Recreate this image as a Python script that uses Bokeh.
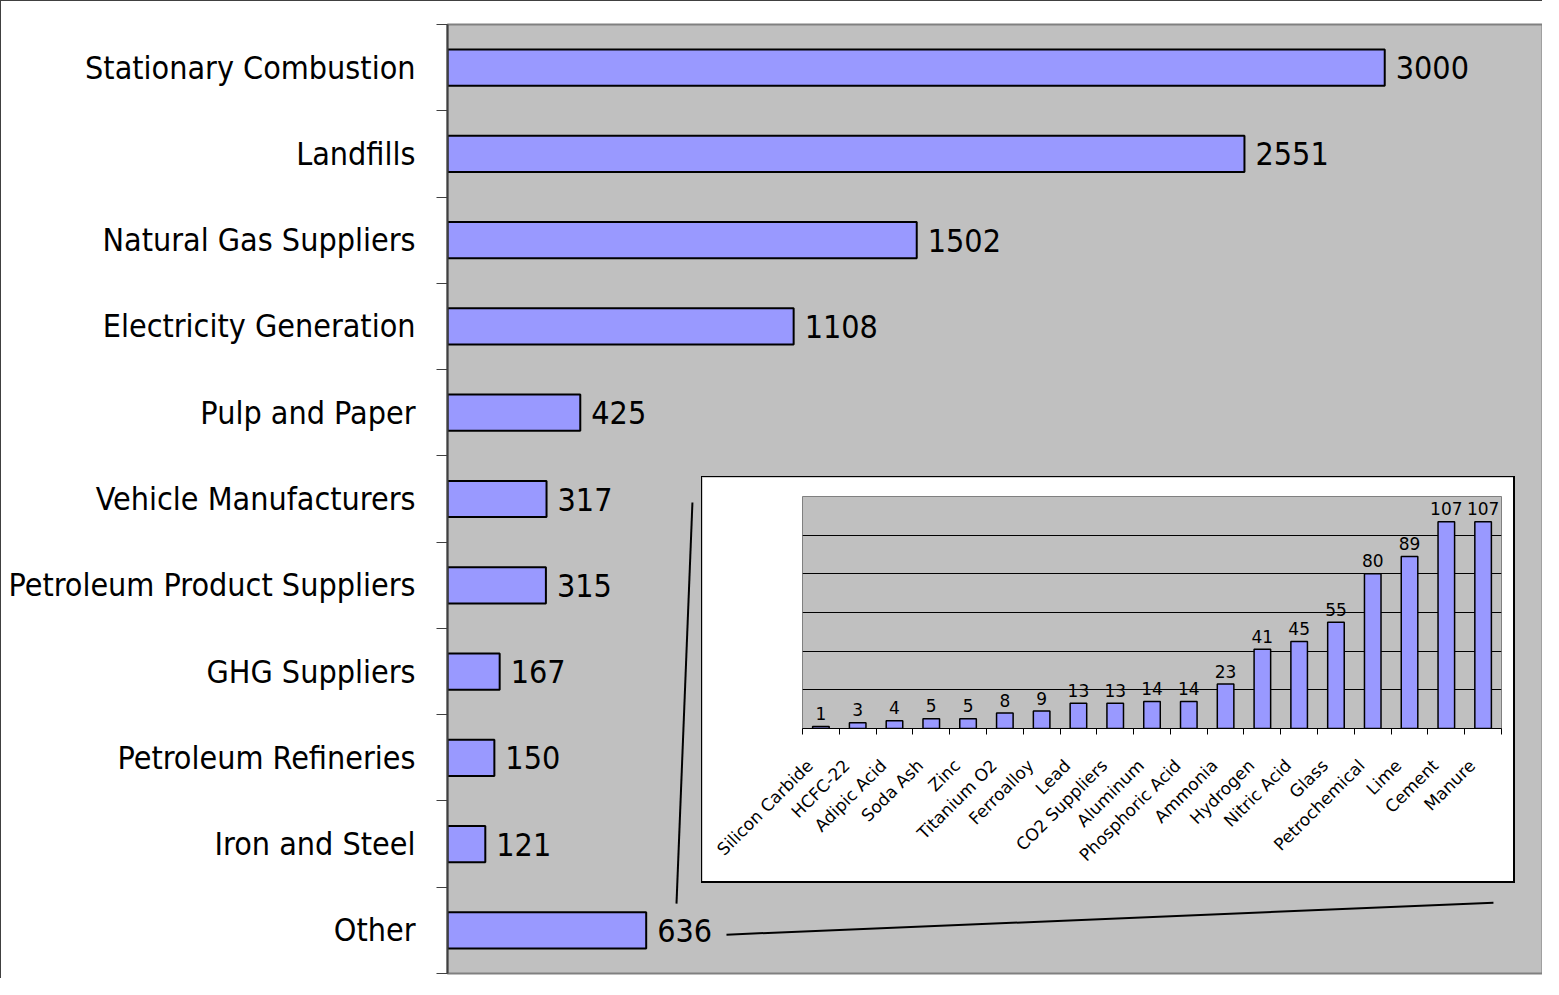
import math
from bokeh.plotting import figure
from bokeh.models import Range1d, FixedTicker, ColumnDataSource, CustomJSTickFormatter
from bokeh.layouts import column
from bokeh.embed import file_html
from bokeh.resources import INLINE
from bokeh.core.properties import value

# ---------------- data ----------------
categories = ["Stationary Combustion", "Landfills", "Natural Gas Suppliers",
              "Electricity Generation", "Pulp and Paper", "Vehicle Manufacturers",
              "Petroleum Product Suppliers", "GHG Suppliers", "Petroleum Refineries",
              "Iron and Steel", "Other"]
values = [3000, 2551, 1502, 1108, 425, 317, 315, 167, 150, 121, 636]

inset_categories = ["Silicon Carbide", "HCFC-22", "Adipic Acid", "Soda Ash", "Zinc",
                    "Titanium O2", "Ferroalloy", "Lead", "CO2 Suppliers", "Aluminum",
                    "Phosphoric Acid", "Ammonia", "Hydrogen", "Nitric Acid", "Glass",
                    "Petrochemical", "Lime", "Cement", "Manure"]
inset_values = [1, 3, 4, 5, 5, 8, 9, 13, 13, 14, 14, 23, 41, 45, 55, 80, 89, 107, 107]
inset_gridlines = [20, 40, 60, 80, 100]

NARROW = "'DejaVu Sans Condensed', 'Liberation Sans Narrow', sans-serif"
SANS = "'DejaVu Sans', Verdana, sans-serif"
BAR = "#9999FF"
PLOT_BG = "#C0C0C0"

# ---------------- main chart ----------------
n = len(categories)
ypos = [i + 0.5 for i in range(n)]
src = ColumnDataSource(dict(cat=categories, val=values, y=ypos,
                            lbl=[str(v) for v in values]))

W, H = 1542, 978
p = figure(width=W, height=H, output_backend="svg", toolbar_location=None,
           x_range=Range1d(0, 3505), y_range=Range1d(n, 0),
           min_border_left=446, min_border_right=1, min_border_top=23,
           min_border_bottom=6, x_axis_location=None,
           background_fill_color=PLOT_BG, border_fill_color="white",
           styles={"border-left": "1px solid #404040", "border-top": "1px solid #404040"})
p.xgrid.visible = False
p.ygrid.visible = False
p.outline_line_color = "#808080"
p.outline_line_width = 2

p.hbar(y="y", right="val", left=0, height=0.42, fill_color=BAR,
       line_color="black", line_width=2, source=src)
p.text(x="val", y="y", text="lbl", x_offset=11, text_align="left",
       text_baseline="middle", text_font=value(NARROW), text_font_size="32px",
       text_color="black", source=src)

ax = p.yaxis[0]
ax.ticker = FixedTicker(ticks=ypos, minor_ticks=list(range(n + 1)))
ax.formatter = CustomJSTickFormatter(args=dict(labels=categories),
                                     code="return labels[Math.round(tick - 0.5)];")
ax.major_tick_out = 0
ax.major_tick_in = 0
ax.minor_tick_out = 11
ax.minor_tick_in = 0
ax.minor_tick_line_color = "#404040"
ax.minor_tick_line_width = 1
ax.axis_line_color = "#404040"
ax.axis_line_width = 2
ax.major_label_standoff = 21
ax.major_label_text_font = NARROW
ax.major_label_text_font_size = "32px"
ax.major_label_text_color = "black"

# connector lines from the "Other" bar to the inset
p.line(x=[784, 733], y=[5.54, 10.19], line_color="black", line_width=2)
p.line(x=[893, 3348], y=[10.55, 10.18], line_color="black", line_width=2)

# ---------------- inset chart ----------------
m = len(inset_categories)
xpos = [i + 0.5 for i in range(m)]
label_anchor = [i + 0.2 for i in range(m)]   # rotated labels sit slightly left of bar centres
isrc = ColumnDataSource(dict(cat=inset_categories, val=inset_values, x=xpos,
                             lbl=[str(v) for v in inset_values]))

inset = figure(width=814, height=407, output_backend="svg", toolbar_location=None,
               x_range=Range1d(0, m), y_range=Range1d(0, 120),
               min_border_left=100, min_border_right=15, min_border_top=19,
               min_border_bottom=156, y_axis_location=None,
               background_fill_color=PLOT_BG, border_fill_color="white",
               styles={"border-style": "solid", "border-color": "black",
                       "border-width": "1px 2px 2px 1px"})
inset.xgrid.visible = False
inset.ygrid.ticker = FixedTicker(ticks=inset_gridlines)
inset.ygrid.grid_line_color = "black"
inset.ygrid.grid_line_width = 1
inset.outline_line_color = "#808080"
inset.outline_line_width = 1

inset.vbar(x="x", top="val", bottom=0, width=0.45, fill_color=BAR,
           line_color="black", line_width=1.5, source=isrc)
inset.text(x="x", y="val", text="lbl", y_offset=-13, text_align="center",
           text_baseline="alphabetic", text_font=value(SANS), text_font_size="17px",
           text_color="black", source=isrc)

iax = inset.xaxis[0]
iax.ticker = FixedTicker(ticks=label_anchor, minor_ticks=list(range(m + 1)))
iax.formatter = CustomJSTickFormatter(args=dict(labels=inset_categories),
                                      code="return labels[Math.floor(tick)];")
iax.major_tick_out = 0
iax.major_tick_in = 0
iax.minor_tick_out = 6
iax.minor_tick_in = 0
iax.minor_tick_line_color = "black"
iax.axis_line_color = "black"
iax.axis_line_width = 1
iax.major_label_orientation = math.pi / 4
iax.major_label_standoff = 28
iax.major_label_text_font = SANS
iax.major_label_text_font_size = "17px"
iax.major_label_text_color = "black"

inset_box = column(inset, spacing=0, margin=(477 - (H + 1), 0, 0, 701))
layout = column(p, inset_box, spacing=0)

open("out.html", "w").write(file_html(layout, INLINE))
